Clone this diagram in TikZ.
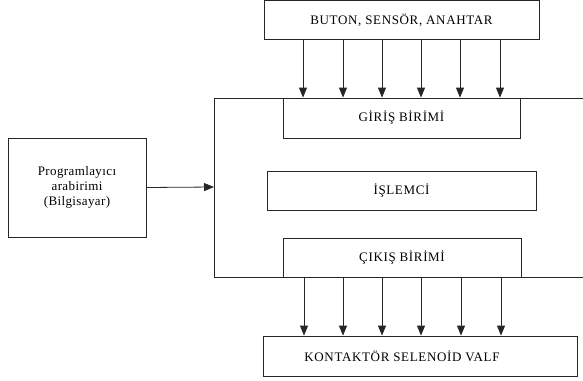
\documentclass[tikz,border=0pt]{standalone}
\usepackage{fontspec}
\setmainfont{Liberation Serif}
\newfontfamily\boxfont[LetterSpace=5]{Liberation Serif}
\newfontfamily\progfont[LetterSpace=3]{Liberation Serif}
\usetikzlibrary{arrows.meta}
\begin{document}
\begin{tikzpicture}[x=1pt,y=-1pt,
  boxst/.style={draw=black!85,line width=0.8pt,fill=white,inner sep=0pt,font=\boxfont\fontsize{13}{16}\selectfont},
  lbl/.style={font=\boxfont\fontsize{13}{16}\selectfont,inner sep=0pt},
  arr/.style={draw=black!85,line width=0.8pt,-{Triangle[length=10pt,width=8pt]}},
  frame/.style={draw=black!85,line width=0.8pt}]
\useasboundingbox (0,0) rectangle (583,380);
% outer frame (open on right)
\coordinate (ftr) at (583,98);
\coordinate (ftl) at (214,98);
\coordinate (fbl) at (214,277);
\coordinate (fbr) at (583,277);
\coordinate (fin) at (214,187);
\draw[frame] (ftr) -- (ftl) -- (fbl) -- (fbr);
% boxes
\node[boxst,minimum width=275pt,minimum height=39pt] (top) at (401.5,20) {BUTON, SENSÖR, ANAHTAR};
\node[boxst,minimum width=237pt,minimum height=40pt] (giris) at (401.5,118) {GİRİŞ BİRİMİ};
\node[boxst,minimum width=269pt,minimum height=39pt] (islem) at (401.5,190.5) {İŞLEMCİ};
\node[boxst,minimum width=238pt,minimum height=39pt] (cikis) at (402,257.5) {ÇIKIŞ BİRİMİ};
\node[boxst,minimum width=314pt,minimum height=40pt,
      label={[lbl,xshift=-18pt]center:KONTAKTÖR SELENOİD VALF}] (out) at (420,356) {};
\node[boxst,font=\progfont\fontsize{13}{15}\selectfont,minimum width=138pt,minimum height=99pt,align=center] (prog) at (77,187.5) {Programlayıcı\\arabirimi\\(Bilgisayar)};
% input arrows
\foreach \x in {303,343,382,421,460,500}{
  \draw[arr] (top.south -| \x,0) -- (giris.north -| \x,0);
}
% output arrows
\foreach \x in {304,343,382,421,461,501}{
  \draw[arr] (cikis.south -| \x,0) -- (out.north -| \x,0);
}
% programmer arrow
\draw[arr] (prog.east) -- (fin);
\end{tikzpicture}
\end{document}
